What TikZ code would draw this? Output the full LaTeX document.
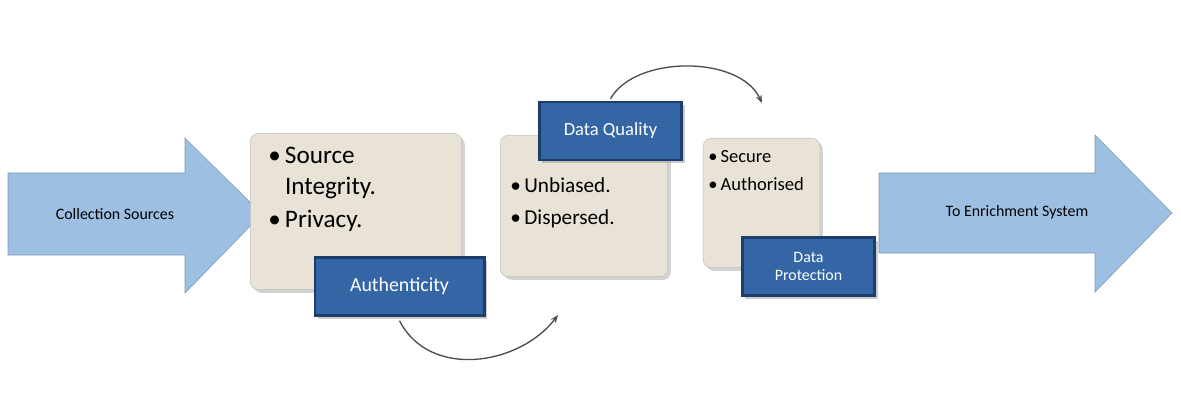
\documentclass[tikz,border=0pt]{standalone}
\usepackage{fontspec}
\setmainfont{Carlito}
\usetikzlibrary{positioning,arrows.meta,shadows}
\definecolor{arrowcolor}{HTML}{9dbfe2}
\definecolor{boxcolor}{HTML}{e8e3d6}
\definecolor{tagcolor}{HTML}{3465a4}
\definecolor{tagedge}{HTML}{1d3d6b}
\newcommand\px{0.7512pt}
\tikzset{
    flow/.style={
        draw=arrowcolor!80!black,
        fill=arrowcolor
    },
    flowtext/.style={
        font=\fontsize{12}{14}\selectfont
    },
    card/.style={
        shape=rectangle,
        draw=gray!50,
        fill=boxcolor,
        rounded corners=6pt,
        drop shadow={opacity=0.35}
    },
    tag/.style={
        shape=rectangle,
        draw=tagedge,
        line width=2pt,
        fill=tagcolor,
        text=white,
        align=center,
        drop shadow={opacity=0.4}
    },
    turn/.style={
        draw=black!70,
        line width=1pt,
        -{Stealth[length=6pt]}
    }
}

\begin{document}
\begin{tikzpicture}[x=0.0265cm,y=-0.0265cm]
    \useasboundingbox (0,0) rectangle (1181,411);

    % big arrows
    \draw[flow] (8,173) -- (185,173) -- (185,138) -- (262,214) -- (185,293) -- (185,255) -- (8,255) -- cycle;
    \draw[flow] (879,173) -- (1095,173) -- (1095,135) -- (1172,213) -- (1095,292) -- (1095,253) -- (879,253) -- cycle;
    \node[flowtext] (srctext) at (115,214) {Collection Sources};
    \node[flowtext] (dsttext) at (1017,212) {To Enrichment System};

    \node[card, minimum width=212*\px, minimum height=157*\px] (auth) at (356,211.5) {};
    \node[card, minimum width=168*\px, minimum height=142*\px] (qual) at (584,206) {};
    \node[card, minimum width=117*\px, minimum height=130*\px] (prot) at (761.5,203) {};

    \node[anchor=north west, inner sep=0pt, font=\fontsize{19}{23}\selectfont] (authtext) at (268,142)
        {\begin{tabular}{@{}l@{\,}l}\textbullet & Source\\ & Integrity.\\[2pt] \textbullet & Privacy.\end{tabular}};
    \node[anchor=north west, inner sep=0pt, font=\fontsize{16}{22}\selectfont] (qualtext) at (510,172)
        {\begin{tabular}{@{}l@{\,}l}\textbullet & Unbiased.\\[2pt] \textbullet & Dispersed.\end{tabular}};
    \node[anchor=north west, inner sep=0pt, font=\fontsize{14}{19}\selectfont] (prottext) at (708,145)
        {\begin{tabular}{@{}l@{\,}l}\textbullet & Secure\\[2pt] \textbullet & Authorised\end{tabular}};

    \node[tag, minimum width=170*\px, minimum height=58*\px, font=\fontsize{15}{18}\selectfont] (authtag) at (399.5,286.5) {Authenticity};
    \node[tag, minimum width=143*\px, minimum height=58*\px, font=\fontsize{14}{17}\selectfont] (qualtag) at (610.5,131) {Data Quality};
    \node[tag, minimum width=133*\px, minimum height=58*\px, font=\fontsize{12}{14}\selectfont] (prottag) at (808.5,266.5) {Data\\Protection};

    \coordinate (authend) at (558,315);
    \coordinate (qualend) at (762,103);

    \draw[turn] (authtag.south) ++(0,4) coordinate (authstart)
        (authstart) .. controls (430,380) and (520,365) .. (authend);
    \draw[turn] (qualtag.north) ++(0,-2) coordinate (qualstart)
        (qualstart) .. controls (635,55) and (740,55) .. (qualend);
\end{tikzpicture}
\end{document}
